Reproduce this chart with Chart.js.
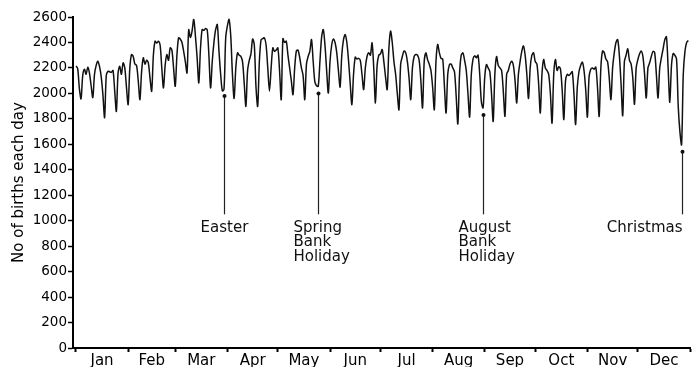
<!DOCTYPE html>
<html>
<head>
<meta charset="utf-8">
<title>Births each day</title>
<script src="https://cdn.jsdelivr.net/npm/chart.js@4/dist/chart.umd.min.js"></script>
<style>
  html, body { margin: 0; padding: 0; background: #ffffff; }
  #wrap { width: 697px; height: 367px; }
</style>
</head>
<body>
<div id="wrap"><canvas id="chart" width="697" height="367"></canvas></div>
<script>
// Month names and the day-of-year on which each month starts (plus year end)
const MONTHS = ['Jan', 'Feb', 'Mar', 'Apr', 'May', 'Jun', 'Jul', 'Aug', 'Sep', 'Oct', 'Nov', 'Dec'];
const MONTH_STARTS = [0, 31, 59, 90, 120, 151, 181, 212, 243, 273, 304, 334, 365];

// Births registered on each day of the year (Thu 1 Jan .. Thu 31 Dec), one row per Mon-Sun week
const BIRTHS = [
                          2215, 2195, 2040, 1957,
  2140, 2190, 2150, 2205, 2160, 2060, 1967,
  2150, 2220, 2253, 2210, 2130, 1990, 1810,
  2140, 2174, 2170, 2165, 2180, 2020, 1859,
  2160, 2213, 2150, 2240, 2200, 2050, 1912,
  2200, 2305, 2290, 2230, 2220, 2100, 1951,
  2170, 2280, 2230, 2260, 2240, 2120, 2017,
  2300, 2410, 2395, 2410, 2380, 2200, 2043,
  2220, 2305, 2260, 2358, 2340, 2200, 2056,
  2300, 2437, 2425, 2400, 2330, 2250, 2161,
  2500, 2440, 2490, 2581, 2450, 2280, 2083,
  2350, 2502, 2495, 2510, 2500, 2300, 2043,
  2250, 2400, 2500, 2541, 2330, 2150, 2020,
  2035, 2437, 2530, 2581, 2450, 2150, 1960,
  2200, 2318, 2300, 2290, 2250, 2080, 1898,
  2180, 2260, 2310, 2427, 2380, 2050, 1898,
  2250, 2420, 2430, 2437, 2380, 2200, 2017,
  2200, 2358, 2330, 2340, 2358, 2180, 1951,
  2430, 2400, 2410, 2300, 2200, 2100, 1990,
  2200, 2333, 2340, 2280, 2200, 2140, 1951,
  2230, 2290, 2330, 2423, 2250, 2090, 2060,
  2055, 2250, 2440, 2502, 2380, 2180, 2003,
  2250, 2380, 2427, 2400, 2320, 2180, 2050,
  2300, 2420, 2462, 2400, 2260, 2080, 1912,
  2150, 2285, 2270, 2275, 2260, 2150, 2030,
  2200, 2290, 2320, 2300, 2397, 2200, 1925,
  2220, 2300, 2310, 2345, 2250, 2130, 2030,
  2350, 2489, 2400, 2250, 2150, 2000, 1872,
  2230, 2290, 2333, 2320, 2250, 2120, 1951,
  2200, 2290, 2305, 2300, 2260, 2100, 1886,
  2250, 2318, 2265, 2230, 2180, 2050, 1872,
  2250, 2384, 2320, 2275, 2270, 2060, 1846,
  2150, 2226, 2230, 2200, 2170, 1980, 1760,
  2150, 2300, 2318, 2260, 2180, 2000, 1815,
  2150, 2270, 2295, 2280, 2300, 2150, 1930,
  1886, 2130, 2226, 2200, 2170, 2000, 1780,
  2150, 2290, 2220, 2200, 2180, 2020, 1820,
  2150, 2180, 2230, 2253, 2220, 2100, 1925,
  2150, 2250, 2330, 2373, 2300, 2150, 1960,
  2200, 2300, 2318, 2250, 2230, 2080, 1846,
  2150, 2266, 2200, 2180, 2150, 2000, 1767,
  2150, 2266, 2180, 2210, 2190, 2030, 1794,
  2100, 2150, 2140, 2155, 2170, 2000, 1755,
  2050, 2170, 2220, 2245, 2180, 2030, 1814,
  2130, 2190, 2200, 2190, 2206, 2050, 1820,
  2200, 2333, 2320, 2270, 2250, 2120, 1951,
  2200, 2320, 2400, 2423, 2300, 2080, 1825,
  2250, 2300, 2350, 2260, 2230, 2120, 1915,
  2200, 2266, 2310, 2333, 2290, 2150, 1964,
  2200, 2240, 2290, 2330, 2320, 2150, 1964,
  2200, 2280, 2350, 2420, 2445, 2200, 1930,
  2220, 2313, 2300, 2270, 1900, 1700, 1597,
  2150, 2330, 2400, 2415
];

// Y axis tick values
const Y_TICKS = [0, 200, 400, 600, 800, 1000, 1200, 1400, 1600, 1800, 2000, 2200, 2400, 2600];

// Public holidays picked out below the curve, and the day of year each falls on
const HOLIDAY_NAMES = [['Easter'], ['Spring', 'Bank', 'Holiday'], ['August', 'Bank', 'Holiday'], ['Christmas']];
const HOLIDAY_DAYS = [88, 144, 242, 360];

// Value at which the holiday pointer lines stop
const POINTER_FOOT = 1050;

const FONT = 'DejaVu Sans';
const MONTH_MIDS = MONTHS.map((m, i) => (MONTH_STARTS[i] + MONTH_STARTS[i + 1]) / 2);

// Pointer line, dot and caption for every holiday
const holidayMarkers = {
  id: 'holidayMarkers',
  afterDatasetsDraw(chart) {
    const { ctx, scales: { x, y } } = chart;
    const captionAlign = ['center', 'left', 'left', 'right'];
    const captionShift = [0, -25, -25, 0];
    ctx.save();
    HOLIDAY_DAYS.forEach((day, i) => {
      const px = Math.round(x.getPixelForValue(day)) + 0.5;
      const top = y.getPixelForValue(BIRTHS[day]) + 7;
      const foot = y.getPixelForValue(POINTER_FOOT);
      ctx.strokeStyle = '#222';
      ctx.lineWidth = 1.2;
      ctx.beginPath();
      ctx.moveTo(px, top);
      ctx.lineTo(px, foot);
      ctx.stroke();
      ctx.fillStyle = '#111';
      ctx.beginPath();
      ctx.arc(px, top, 2, 0, Math.PI * 2);
      ctx.fill();
      ctx.font = '15px "' + FONT + '"';
      ctx.textAlign = captionAlign[i];
      ctx.textBaseline = 'top';
      HOLIDAY_NAMES[i].forEach((line, k) => {
        ctx.fillText(line, px + captionShift[i], foot + 6 + k * 14.5);
      });
    });
    ctx.restore();
  }
};

new Chart(document.getElementById('chart'), {
  type: 'line',
  data: {
    datasets: [{
      data: BIRTHS.map((v, d) => ({ x: d, y: v })),
      borderColor: '#111111',
      borderWidth: 1.5,
      tension: 0.3,
      pointRadius: 0,
      fill: false
    }]
  },
  options: {
    responsive: false,
    animation: false,
    devicePixelRatio: 1,
    layout: { padding: { left: 0, right: 7, top: 17, bottom: 0 } },
    plugins: { legend: { display: false }, tooltip: { enabled: false } },
    scales: {
      x: {
        type: 'linear',
        min: -1.78,
        max: 365,
        afterBuildTicks: (s) => {
          s.ticks = MONTH_STARTS.concat(MONTH_MIDS).sort((a, b) => a - b).map(v => ({ value: v }));
        },
        afterFit: (s) => { s.height = 19; },
        ticks: {
          autoSkip: false,
          maxRotation: 0,
          padding: 0,
          color: '#000',
          font: { family: FONT, size: 15 },
          callback: (v) => {
            const i = MONTH_MIDS.indexOf(v);
            return i >= 0 ? MONTHS[i] : '';
          }
        },
        grid: {
          drawOnChartArea: false,
          tickLength: 4,
          tickWidth: 2,
          tickColor: (c) => (c.tick && MONTH_STARTS.includes(c.tick.value)) ? '#000' : 'rgba(0,0,0,0)'
        },
        border: { display: true, color: '#000', width: 2 }
      },
      y: {
        min: 0,
        max: 2600,
        afterBuildTicks: (s) => { s.ticks = Y_TICKS.map(v => ({ value: v })); },
        afterFit: (s) => { s.width = 73; },
        ticks: {
          padding: 1,
          color: '#000',
          font: { family: FONT, size: 13.5 },
          callback: (v) => String(v)
        },
        grid: { drawOnChartArea: false, tickLength: 5, tickWidth: 1.5, tickColor: '#000' },
        border: { display: true, color: '#000', width: 2 },
        title: {
          display: true,
          text: 'No of births each day',
          color: '#000',
          font: { family: FONT, size: 15 },
          padding: { top: 10, bottom: 0 }
        }
      }
    }
  },
  plugins: [holidayMarkers]
});
</script>
</body>
</html>
